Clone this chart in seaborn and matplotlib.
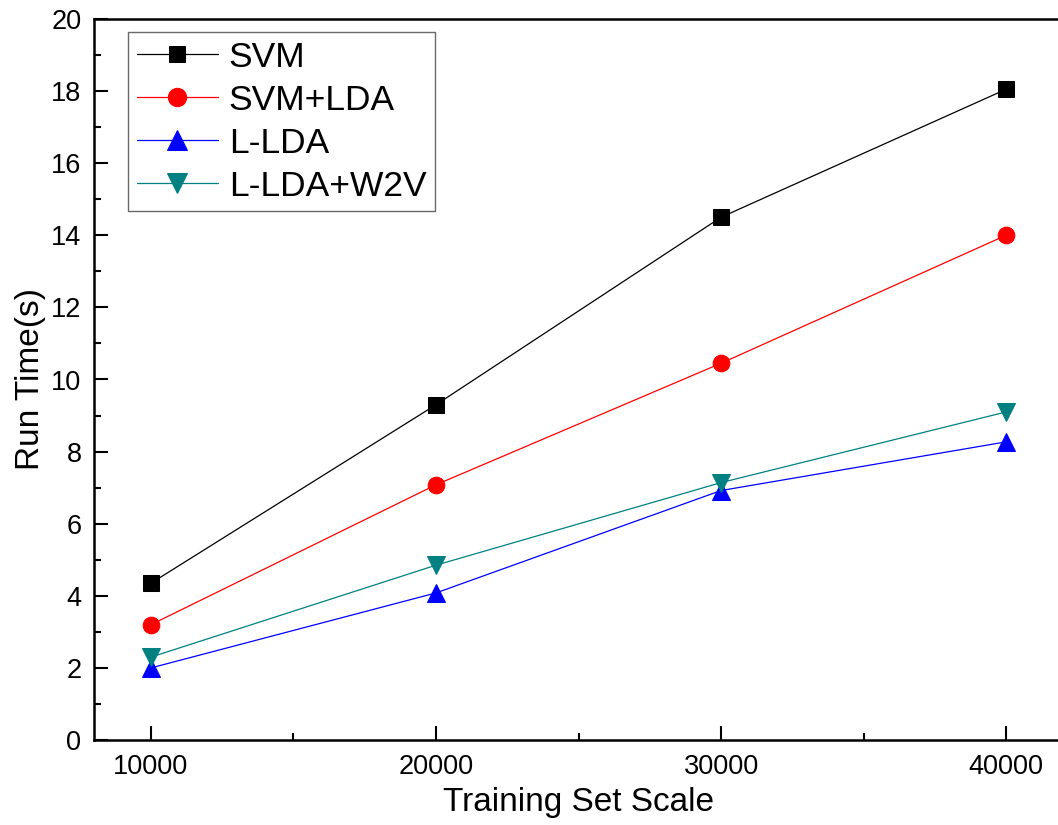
import matplotlib
matplotlib.use("Agg")
import matplotlib.pyplot as plt
from matplotlib.ticker import MultipleLocator
import seaborn as sns

# ---------------------------------------------------------------------------
# Data
# ---------------------------------------------------------------------------
train_size = [10000, 20000, 30000, 40000]
svm = [4.35, 9.3, 14.5, 18.05]
svm_lda = [3.2, 7.08, 10.45, 14.0]
l_lda = [2.0, 4.08, 6.92, 8.27]
l_lda_w2v = [2.3, 4.85, 7.14, 9.1]

series = [
    ("SVM", svm, "#000000", "s", 11),
    ("SVM+LDA", svm_lda, "#FF0000", "o", 12),
    ("L-LDA", l_lda, "#0000FF", "^", 13),
    ("L-LDA+W2V", l_lda_w2v, "#008080", "v", 13),
]

sns.set_theme(style="ticks")
plt.rcParams["font.family"] = ["Liberation Sans", "DejaVu Sans"]
plt.rcParams.update({
    "text.color": "black",
    "axes.labelcolor": "black",
    "xtick.color": "black",
    "ytick.color": "black",
})

fig = plt.figure(figsize=(10.58, 8.25), dpi=100)
# axes run a little past the right edge, like the cropped original
ax = fig.add_axes([0.0888, 0.103, 0.916, 0.874])

for name, vals, color, marker, ms in series:
    sns.lineplot(
        x=train_size, y=vals, ax=ax, color=color, marker=marker,
        markersize=ms, markeredgecolor=color, linewidth=0.9, label=name,
    )

ax.set_xlim(8000, 42000)
ax.set_ylim(0, 20)
ax.xaxis.set_major_locator(MultipleLocator(10000))
ax.xaxis.set_minor_locator(MultipleLocator(5000))
ax.yaxis.set_major_locator(MultipleLocator(2))
ax.yaxis.set_minor_locator(MultipleLocator(1))

ax.tick_params(which="both", direction="in", width=1.5, colors="black",
               labelsize=19.5, right=False, top=False)
ax.tick_params(which="major", length=10)
ax.tick_params(which="minor", length=5)
ax.tick_params(axis="x", pad=10)
ax.tick_params(axis="y", pad=9)

for sp in ax.spines.values():
    sp.set_linewidth(1.8)
    sp.set_color("black")
ax.spines["right"].set_visible(False)

ax.set_xlabel("Training Set Scale", fontsize=24, labelpad=5)
ax.set_ylabel("Run Time(s)", fontsize=24, labelpad=4)

leg = ax.legend(
    loc="upper left", bbox_to_anchor=(0.035, 0.982), borderaxespad=0,
    fontsize=25.5, frameon=True, fancybox=False, handlelength=2.3,
    handletextpad=0.3, labelspacing=0.28, borderpad=0.25,
)
leg.get_frame().set_edgecolor("#444444")
leg.get_frame().set_linewidth(1.0)
for h in leg.legend_handles:
    h.set_markersize(h.get_markersize() * 1.1)

fig.savefig("out.png", dpi=100)
